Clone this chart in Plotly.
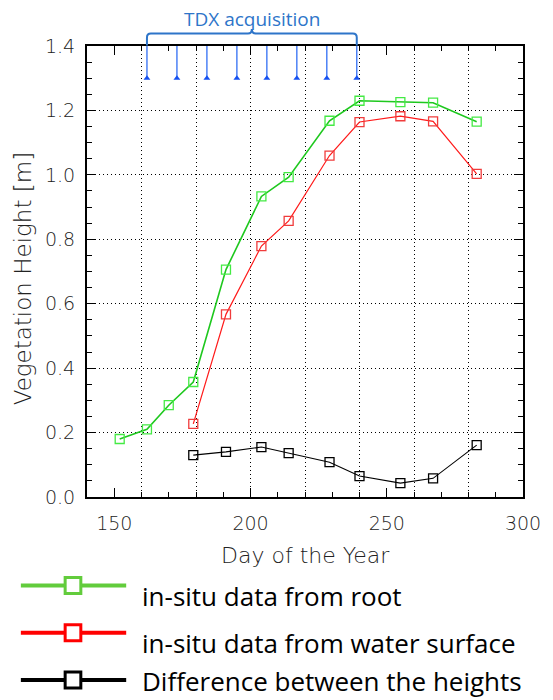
import plotly.graph_objects as go

# ---------------- data ----------------
days_root = [152, 162, 170, 179, 191, 204, 214, 229, 240, 255, 267, 283]
height_root = [0.180, 0.210, 0.285, 0.357, 0.706, 0.933, 0.993, 1.168, 1.230, 1.226, 1.224, 1.165]

days_water = [179, 191, 204, 214, 229, 240, 255, 267, 283]
height_water = [0.227, 0.567, 0.779, 0.857, 1.060, 1.164, 1.182, 1.166, 1.003]

days_diff = [179, 191, 204, 214, 229, 240, 255, 267, 283]
height_diff = [0.130, 0.140, 0.155, 0.136, 0.108, 0.065, 0.043, 0.058, 0.161]

tdx_days = [162, 173, 184, 195, 206, 217, 228, 239]
tdx_level = 1.3

x_range = [140, 300]
y_range = [0.0, 1.4]
x_label_vals = [150, 200, 250, 300]
x_grid_vals = [160, 180, 200, 220, 240, 260, 280]
y_tick_vals = [0.0, 0.2, 0.4, 0.6, 0.8, 1.0, 1.2, 1.4]
y_tick_text = ["0.0", "0.2", "0.4", "0.6", "0.8", "1.0", "1.2", "1.4"]

legend_labels = ["in-situ data from root",
                 "in-situ data from water surface",
                 "Difference between the heights"]

# ---------------- geometry helpers ----------------
W, H = 553, 700
L, R, T, B = 87, 21, 46, 203
PW, PH = W - L - R, H - T - B


def pxx(xpix):
    return (xpix - L) / PW


def pyy(ypix):
    return (H - B - ypix) / PH


tick_font = dict(family="DejaVu Sans", size=19, color="#222222", weight=200)
grid_dash = "1px,3px"

fig = go.Figure()

# TDX acquisition stems
stem_x, stem_y = [], []
for d in tdx_days:
    stem_x += [d, d, None]
    stem_y += [tdx_level, y_range[1], None]
fig.add_trace(go.Scatter(x=stem_x, y=stem_y, mode="lines",
                         line=dict(color="#3f78f5", width=1.4),
                         showlegend=False, hoverinfo="skip"))
fig.add_trace(go.Scatter(x=tdx_days, y=[tdx_level] * len(tdx_days), mode="markers",
                         marker=dict(symbol="triangle-up", size=6, color="#1550f0"),
                         showlegend=False, hoverinfo="skip"))

series = [
    (days_root, height_root, "#1ec81e", "#44ea44", 1.6, legend_labels[0]),
    (days_water, height_water, "#ff1a1a", "#f03c3c", 1.2, legend_labels[1]),
    (days_diff, height_diff, "#000000", "#000000", 1.1, legend_labels[2]),
]
for xs, ys, lc, mc, lw, name in series:
    fig.add_trace(go.Scatter(
        x=xs, y=ys, mode="lines+markers", name=name,
        line=dict(color=lc, width=lw),
        marker=dict(symbol="square-open", size=9, color=mc, line=dict(width=1.3, color=mc)),
        showlegend=False))

# dummy trace for gridline overlay axis
fig.add_trace(go.Scatter(x=[None], y=[None], xaxis="x2", showlegend=False, hoverinfo="skip"))

# ---------------- bracket ----------------
x0, x1 = tdx_days[0], tdx_days[-1]
xm = (x0 + x1) / 2
rd = 4 / (PW / (x_range[1] - x_range[0]))
yb, ye, yn = pyy(33.5), pyy(45.5), pyy(29.0)
rpy = 4 / PH
bracket = (f"M {x0},{ye} L {x0},{yb - rpy} Q {x0},{yb} {x0 + rd},{yb} "
           f"L {xm - rd},{yb} Q {xm},{yb} {xm},{yn} Q {xm},{yb} {xm + rd},{yb} "
           f"L {x1 - rd},{yb} Q {x1},{yb} {x1},{yb - rpy} L {x1},{ye}")
shapes = [dict(type="path", path=bracket, xref="x", yref="paper",
               line=dict(color="#2e75c9", width=2))]

annotations = [
    dict(text="TDX acquisition", x=xm, xref="x", y=pyy(19.5), yref="paper",
         xanchor="center", yanchor="middle", showarrow=False,
         font=dict(family="Open Sans", size=19, color="#2e75c9")),
    dict(text="Day of the Year", x=pxx(310), xref="paper", y=pyy(555), yref="paper",
         xanchor="center", yanchor="middle", showarrow=False,
         font=dict(family="DejaVu Sans", size=22, color="#222222", weight=200)),
    dict(text="Vegetation Height [m]", x=pxx(22), xref="paper", y=pyy(279), yref="paper",
         xanchor="center", yanchor="middle", showarrow=False, textangle=-90,
         font=dict(family="DejaVu Sans", size=23, color="#222222", weight=200)),
]

# ---------------- custom legend ----------------
legend_colors = ["#62cc3c", "#ff0000", "#000000"]
legend_line_y = [585.5, 632.7, 680.0]
legend_text_y = [596, 643, 681]
for col, ly, ty, lab in zip(legend_colors, legend_line_y, legend_text_y, legend_labels):
    shapes.append(dict(type="line", xref="paper", yref="paper",
                       x0=pxx(19.5), x1=pxx(127), y0=pyy(ly), y1=pyy(ly),
                       line=dict(color=col, width=4)))
    shapes.append(dict(type="rect", xref="paper", yref="paper",
                       x0=pxx(72.7 - 8), x1=pxx(72.7 + 8), y0=pyy(ly - 8), y1=pyy(ly + 8),
                       fillcolor="white", line=dict(color=col, width=3)))
    annotations.append(dict(text=lab, x=pxx(141), xref="paper", y=pyy(ty), yref="paper",
                            xanchor="left", yanchor="middle", showarrow=False,
                            font=dict(family="Open Sans", size=26, color="black")))

fig.update_layout(
    width=W, height=H,
    margin=dict(l=L, r=R, t=T, b=B, pad=0),
    paper_bgcolor="white", plot_bgcolor="white",
    shapes=shapes, annotations=annotations,
    xaxis=dict(range=x_range, tickmode="array", tickvals=x_label_vals,
               ticktext=[str(v) for v in x_label_vals],
               ticks="inside", ticklen=9, tickwidth=1.3, tickcolor="black",
               minor=dict(dtick=10, tick0=150, ticks="inside", ticklen=5, tickwidth=1.3,
                          tickcolor="black", showgrid=False),
               showgrid=False, zeroline=False,
               showline=True, linecolor="black", linewidth=2, mirror="ticks",
               tickfont=tick_font, ticklabelstandoff=8),
    xaxis2=dict(range=x_range, overlaying="x", anchor="y", tickmode="array",
                tickvals=x_grid_vals, showgrid=True, gridcolor="black", gridwidth=1,
                griddash=grid_dash, ticks="", showticklabels=False,
                showline=False, zeroline=False),
    yaxis=dict(range=y_range, tickmode="array", tickvals=y_tick_vals, ticktext=y_tick_text,
               ticks="inside", ticklen=9, tickwidth=1.3, tickcolor="black",
               minor=dict(dtick=0.05, tick0=0, ticks="inside", ticklen=5, tickwidth=1.3,
                          tickcolor="black", showgrid=False),
               showgrid=True, gridcolor="black", gridwidth=1, griddash=grid_dash,
               zeroline=False,
               showline=True, linecolor="black", linewidth=2, mirror="ticks",
               tickfont=tick_font, ticklabelstandoff=6),
)

fig.write_html("out.html")
